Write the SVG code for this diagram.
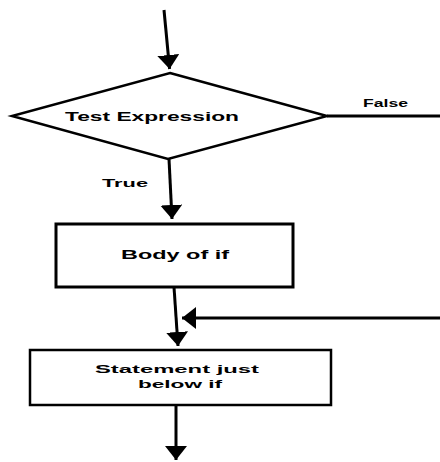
<svg xmlns="http://www.w3.org/2000/svg" width="440" height="462" viewBox="0 0 440 462">
  <style>
    .shape { fill: #fff; stroke: #000; stroke-linejoin: miter; }
    .wire { fill: none; stroke: #000; stroke-width: 3; }
    .lbl { font-family: "Liberation Sans", Arial, sans-serif; font-weight: bold; fill: #000; }
  </style>
  <defs>
    <marker id="head" viewBox="0 0 14 22" markerWidth="14" markerHeight="22" refX="14" refY="11" orient="auto" markerUnits="userSpaceOnUse">
      <path d="M0,0 L14,11 L0,22 Z" fill="#000"/>
    </marker>
  </defs>

  <rect width="440" height="462" fill="#fff"/>

  <!-- decision -->
  <g id="test-expression">
    <polygon class="shape" stroke-width="2.5" points="170,73 327,116 168,159 12,116"/>
    <text class="lbl" x="152" y="121" font-size="13" text-anchor="middle" textLength="174" lengthAdjust="spacingAndGlyphs">Test Expression</text>
  </g>

  <!-- body -->
  <g id="body-of-if">
    <rect class="shape" stroke-width="3" x="56" y="224" width="237" height="63"/>
    <text class="lbl" x="175" y="259" font-size="13" text-anchor="middle" textLength="108" lengthAdjust="spacingAndGlyphs">Body of if</text>
  </g>

  <!-- following statement -->
  <g id="statement-below">
    <rect class="shape" stroke-width="2.5" x="30" y="350" width="301" height="55"/>
    <text class="lbl" x="177" y="373" font-size="11" text-anchor="middle" textLength="164" lengthAdjust="spacingAndGlyphs">Statement just</text>
    <text class="lbl" x="180" y="388" font-size="11" text-anchor="middle" textLength="84" lengthAdjust="spacingAndGlyphs">below if</text>
  </g>

  <!-- connectors -->
  <g id="connectors">
    <line class="wire" x1="164" y1="10" x2="169.6" y2="69" marker-end="url(#head)"/>
    <line class="wire" x1="169" y1="159" x2="172" y2="219" marker-end="url(#head)"/>
    <line class="wire" x1="174" y1="287" x2="178" y2="346" marker-end="url(#head)"/>
    <line class="wire" x1="176" y1="405" x2="176" y2="460" marker-end="url(#head)"/>
    <line class="wire" x1="327" y1="116" x2="440" y2="116"/>
    <line class="wire" x1="440" y1="318" x2="182" y2="318" marker-end="url(#head)"/>
    <text class="lbl" x="363" y="107" font-size="11" textLength="45" lengthAdjust="spacingAndGlyphs">False</text>
    <text class="lbl" x="102" y="187" font-size="11" textLength="46" lengthAdjust="spacingAndGlyphs">True</text>
  </g>
</svg>
